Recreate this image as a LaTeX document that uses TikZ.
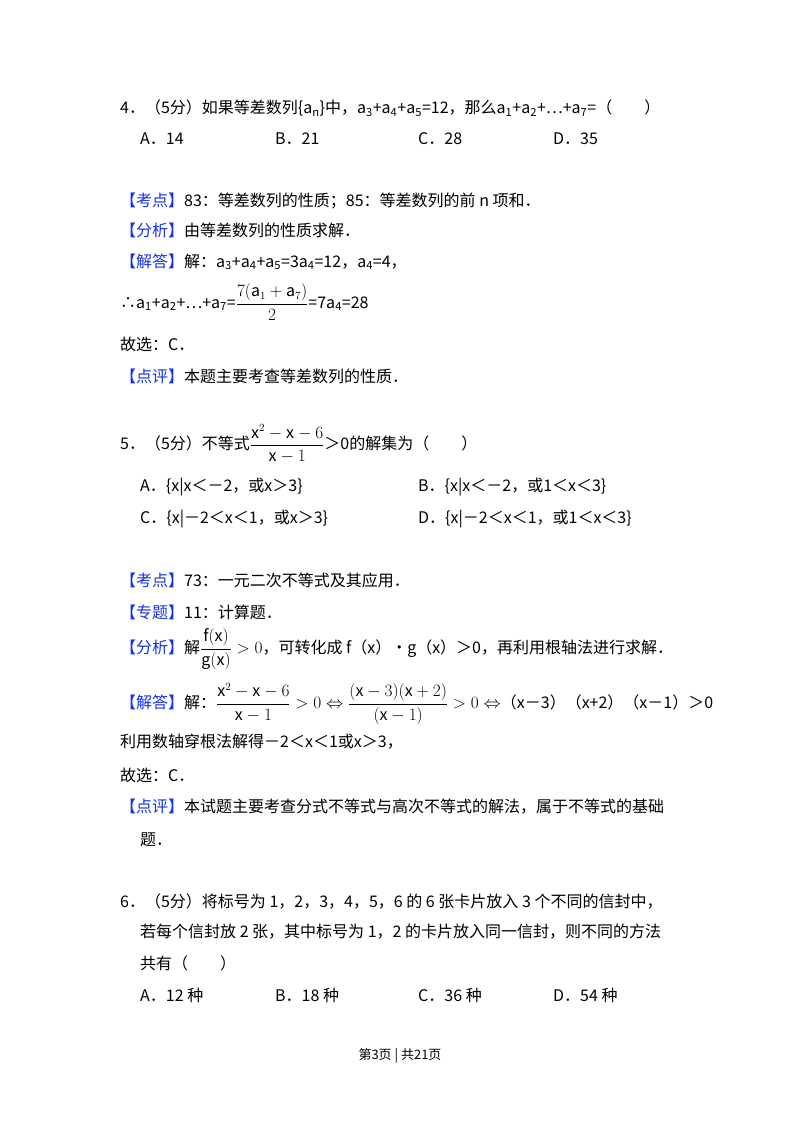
\documentclass[tikz,border=0pt]{standalone}
\usepackage{amsmath}
\usepackage{fontspec}
\setmainfont{Noto Sans CJK SC}
\definecolor{kb}{RGB}{20,50,230}
\newcommand{\kd}[1]{\textcolor{kb}{【#1】}}
\newcommand{\sbb}[1]{\textsubscript{#1}}
\begin{document}
\begin{tikzpicture}[x=1pt,y=-1pt,
  every node/.style={anchor=west,inner sep=0pt,font=\fontsize{16}{18}\selectfont}]
\useasboundingbox[fill=white] (0,0) rectangle (800,1133);
\node (q4) at (120,108) {4．（5分）如果等差数列\{a\sbb{n}\}中，a\sbb{3}+a\sbb{4}+a\sbb{5}=12，那么a\sbb{1}+a\sbb{2}+…+a\sbb{7}=（\quad\quad）};
\node (q4a) at (140,139) {A．14};
\node (q4b) at (275,139) {B．21};
\node (q4c) at (418,139) {C．28};
\node (q4d) at (553,139) {D．35};
\node (k4) at (120,201) {\kd{考点}83：等差数列的性质；85：等差数列的前 n 项和．};
\node (f4) at (120,230) {\kd{分析}由等差数列的性质求解．};
\node (j4) at (120,262) {\kd{解答}解：a\sbb{3}+a\sbb{4}+a\sbb{5}=3a\sbb{4}=12，a\sbb{4}=4，};
\node (j4b) at (120,302) {∴a\sbb{1}+a\sbb{2}+…+a\sbb{7}=$\dfrac{7(\mathrm{a}_1+\mathrm{a}_7)}{2}$=7a\sbb{4}=28};
\node (g4) at (120,344) {故选：C．};
\node (d4) at (120,376) {\kd{点评}本题主要考查等差数列的性质．};
\node (q5) at (120,444) {5．（5分）不等式$\dfrac{\mathrm{x}^2-\mathrm{x}-6}{\mathrm{x}-1}$＞0的解集为（\quad\quad）};
\node (q5a) at (140,487) {A．\{x|x＜－2，或x＞3\}};
\node (q5b) at (418,487) {B．\{x|x＜－2，或1＜x＜3\}};
\node (q5c) at (140,519) {C．\{x|－2＜x＜1，或x＞3\}};
\node (q5d) at (418,519) {D．\{x|－2＜x＜1，或1＜x＜3\}};
\node (k5) at (120,580) {\kd{考点}73：一元二次不等式及其应用．};
\node (z5) at (120,612) {\kd{专题}11：计算题．};
\node (f5) at (120,649) {\kd{分析}解$\dfrac{\mathrm{f(x)}}{\mathrm{g(x)}}>0$，可转化成 f（x）•g（x）＞0，再利用根轴法进行求解．};
\node (j5) at (120,704) {\kd{解答}解：$\dfrac{\mathrm{x}^2-\mathrm{x}-6}{\mathrm{x}-1}>0\Leftrightarrow\dfrac{(\mathrm{x}-3)(\mathrm{x}+2)}{(\mathrm{x}-1)}>0\Leftrightarrow$（x－3）（x+2）（x－1）＞0};
\node (j5b) at (120,742) {利用数轴穿根法解得－2＜x＜1或x＞3，};
\node (g5) at (120,775) {故选：C．};
\node (d5) at (120,807) {\kd{点评}本试题主要考查分式不等式与高次不等式的解法，属于不等式的基础};
\node (d5b) at (140,840) {题．};
\node (q6) at (120,901) {6．（5分）将标号为 1，2，3，4，5，6 的 6 张卡片放入 3 个不同的信封中，};
\node (q6b) at (140,932) {若每个信封放 2 张，其中标号为 1，2 的卡片放入同一信封，则不同的方法};
\node (q6c) at (140,963) {共有（\quad\quad）};
\node (q6a1) at (140,995) {A．12 种};
\node (q6a2) at (275,995) {B．18 种};
\node (q6a3) at (418,995) {C．36 种};
\node (q6a4) at (553,995) {D．54 种};
\node[anchor=center,font=\fontsize{13}{15}\selectfont] (ft) at (400,1056) {第3页 | 共21页};
\end{tikzpicture}
\end{document}
